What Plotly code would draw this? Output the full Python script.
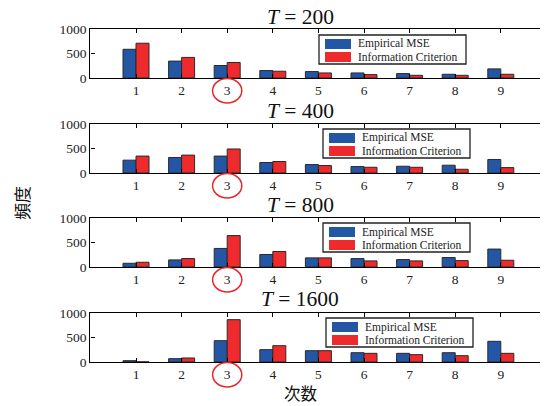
import plotly.graph_objects as go

W, H = 545, 406

orders = [1, 2, 3, 4, 5, 6, 7, 8, 9]
sample_sizes = [200, 400, 800, 1600]

mse_200 = [586, 345, 255, 152, 131, 103, 90, 76, 186]
ic_200 = [710, 420, 317, 138, 103, 69, 55, 55, 76]
mse_400 = [262, 317, 345, 214, 172, 131, 138, 159, 276]
ic_400 = [345, 365, 490, 234, 152, 117, 117, 76, 110]
mse_800 = [76, 145, 379, 255, 186, 172, 152, 193, 366]
ic_800 = [97, 172, 641, 317, 186, 124, 124, 131, 138]
mse_1600 = [27, 68, 435, 252, 231, 190, 177, 190, 422]
ic_1600 = [3, 82, 864, 333, 231, 177, 150, 129, 177]

mse_series = [mse_200, mse_400, mse_800, mse_1600]
ic_series = [ic_200, ic_400, ic_800, ic_1600]

y_ticks = [0, 500, 1000]
legend_names = ["Empirical MSE", "Information Criterion"]
highlight_order = 3

BLUE = "#2456a6"
RED = "#ee2a2c"
EDGE = "#2a2a2a"
SERIF = "Liberation Serif, Times New Roman, serif"

# pixel layout of panels (top, bottom)
panel_px = [(29, 78), (124, 173), (218, 267), (313, 362)]
title_px = [17, 111, 205, 299]
legend_px = [(319, 35), (323, 129), (323, 223), (326, 318)]
x_left, x_right = 90.4, 540
unit = 45.6

def px(x):
    return x / W

def py(y):
    return 1 - y / H

fig = go.Figure()
shapes = []
annotations = []

for i, T in enumerate(sample_sizes):
    ax = "" if i == 0 else str(i + 1)
    xa = "x" + ax
    ya = "y" + ax
    top, bot = panel_px[i]
    fig.add_trace(go.Bar(
        x=orders, y=mse_series[i], name=legend_names[0], xaxis=xa, yaxis=ya,
        marker=dict(color=BLUE, line=dict(color=EDGE, width=1)), showlegend=False,
        offsetgroup="a"))
    fig.add_trace(go.Bar(
        x=orders, y=ic_series[i], name=legend_names[1], xaxis=xa, yaxis=ya,
        marker=dict(color=RED, line=dict(color=EDGE, width=1)), showlegend=False,
        offsetgroup="b"))
    fig.layout["xaxis" + ax] = dict(
        domain=[px(x_left), px(x_right)], range=[0, (x_right - x_left) / unit],
        anchor=ya, tickvals=orders, ticktext=[str(o) for o in orders],
        ticks="inside", ticklen=4, tickcolor="black", tickwidth=1,
        showline=True, linecolor="black", linewidth=1.3, mirror="ticks",
        showgrid=False, zeroline=False, automargin=False,
        tickfont=dict(family=SERIF, size=13.5, color="#222"))
    fig.layout["yaxis" + ax] = dict(
        domain=[py(bot), py(top)], range=[0, 1000], anchor=xa,
        tickvals=y_ticks, ticks="inside", ticklen=4, tickcolor="black",
        showline=True, linecolor="black", linewidth=1.3, mirror=False,
        showgrid=False, zeroline=False, automargin=False,
        tickfont=dict(family=SERIF, size=13.5, color="#222"))
    # panel title
    annotations.append(dict(
        text="<i>T</i> = " + str(T), xref="paper", yref="paper",
        x=px(300), y=py(title_px[i]), xanchor="center", yanchor="middle",
        showarrow=False, font=dict(family=SERIF, size=21.5, color="#111")))
    # legend box
    lx, ly = legend_px[i]
    shapes.append(dict(type="rect", xref="paper", yref="paper",
                       x0=px(lx), x1=px(lx + 147), y0=py(ly), y1=py(ly + 29),
                       line=dict(color="#222", width=1.3), fillcolor="white", layer="above"))
    for k, (nm, col) in enumerate(zip(legend_names, [BLUE, RED])):
        sy = ly + 4 + k * 13
        shapes.append(dict(type="rect", xref="paper", yref="paper",
                           x0=px(lx + 6), x1=px(lx + 32), y0=py(sy), y1=py(sy + 10),
                           line=dict(width=0), fillcolor=col, layer="above"))
        annotations.append(dict(
            text=nm, xref="paper", yref="paper", x=px(lx + 37), y=py(sy + 5),
            xanchor="left", yanchor="middle", showarrow=False,
            font=dict(family=SERIF, size=11.5, color="#222")))
    # red circle around highlighted order
    shapes.append(dict(type="circle", xref=xa, yref="paper",
                       x0=highlight_order - 0.32, x1=highlight_order + 0.32,
                       y0=py(bot + 25), y1=py(bot + 0.5),
                       line=dict(color="#e8262a", width=1.5)))

annotations.append(dict(
    text="頻度", xref="paper", yref="paper", x=px(21), y=py(203),
    xanchor="center", yanchor="middle", textangle=-90, showarrow=False,
    font=dict(family="Noto Sans CJK JP", size=17, color="#111")))
annotations.append(dict(
    text="次数", xref="paper", yref="paper", x=px(300), y=py(393),
    xanchor="center", yanchor="middle", showarrow=False,
    font=dict(family="Noto Sans CJK JP", size=16.5, color="#111")))

fig.update_layout(
    width=W, height=H, margin=dict(l=0, r=0, t=0, b=0, pad=0),
    paper_bgcolor="white", plot_bgcolor="white",
    barmode="group", bargap=0.43, bargroupgap=0,
    shapes=shapes, annotations=annotations, showlegend=False)

fig.write_html("out.html", config={"displayModeBar": False},
               post_script="document.body.style.margin='0';")
